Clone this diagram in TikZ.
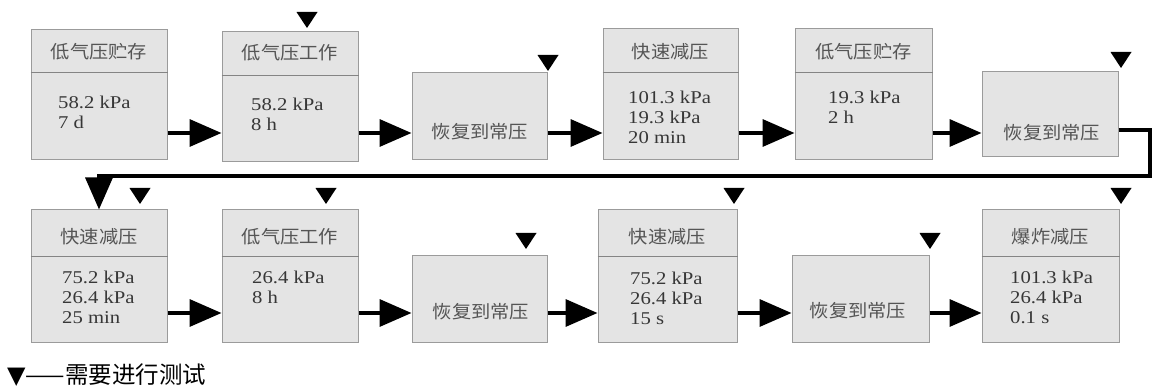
\documentclass[tikz,border=0pt]{standalone}
\usepackage{fontspec}
\setmainfont{Liberation Serif}[FakeStretch=1.15]
\newfontfamily\cjk{Noto Sans CJK SC}[FakeStretch=1.07]
\newfontfamily\cjkl{Noto Sans CJK SC}
\newfontfamily\dejavu{DejaVu Sans}
\usetikzlibrary{arrows.meta,calc}
\definecolor{boxfill}{RGB}{228,228,228}
\definecolor{boxline}{RGB}{155,155,155}
\definecolor{txt}{RGB}{55,55,55}
\newcommand\tmark[2]{\fill (#1-10.5,#2) -- ++(21,0) -- ++(-10.5,16) -- cycle;}
\begin{document}
\begin{tikzpicture}[x=1pt,y=-1pt,
 box/.style={draw=boxline, fill=boxfill, line width=1pt, inner sep=0pt},
 head/.style={font=\cjk\fontsize{18}{20}\selectfont, text=txt!85, inner sep=0pt},
 body/.style={font=\fontsize{18}{20}\selectfont, text=txt, align=left, anchor=north west, inner sep=0pt},
 arr/.style={line width=3.5pt, -{Triangle[length=32pt,width=27pt]}},
 div/.style={draw=boxline!85!black, line width=1pt}]
\useasboundingbox (0,0) rectangle (1152,387);
\coordinate (r1) at (0,133);
\coordinate (r2) at (0,313);
% row 1
\node[box, minimum width=136pt, minimum height=130pt] (b1) at (99,95) {};
\node[box, minimum width=136pt, minimum height=130pt] (b2) at (290,96.5) {};
\node[box, minimum width=135pt, minimum height=87pt] (b3) at (479.5,116.5) {};
\node[box, minimum width=135pt, minimum height=131pt] (b4) at (670.5,94.5) {};
\node[box, minimum width=137pt, minimum height=131pt] (b5) at (863.5,94.5) {};
\node[box, minimum width=136pt, minimum height=85pt] (b6) at (1050,114.5) {};
% row 2
\node[box, minimum width=136pt, minimum height=133pt] (b7) at (99,276.5) {};
\node[box, minimum width=136pt, minimum height=133pt] (b8) at (290,276.5) {};
\node[box, minimum width=135pt, minimum height=87pt] (b9) at (479.5,299.5) {};
\node[box, minimum width=139pt, minimum height=133pt] (b10) at (667.5,276.5) {};
\node[box, minimum width=137pt, minimum height=87pt] (b11) at (860.5,299.5) {};
\node[box, minimum width=137pt, minimum height=133pt] (b12) at (1050.5,276.5) {};
% dividers
\foreach \b/\d in {b1/43,b2/45,b4/44,b5/44,b7/47,b8/47,b10/47,b12/47}
  \draw[div] ($(\b.north west)+(0,\d)$) -- ($(\b.north east)+(0,\d)$);
% headers
\node[head] (h1) at (99,52) {低气压贮存};
\node[head] (h2) at (290,53) {低气压工作};
\node[head] (h4) at (670.5,52) {快速减压};
\node[head] (h5) at (863.5,52) {低气压贮存};
\node[head] (h7) at (99,237) {快速减压};
\node[head] (h8) at (290,237) {低气压工作};
\node[head] (h10) at (667.5,237) {快速减压};
\node[head] (h12) at (1050.5,237) {爆炸减压};
\node[head] (t3) at (480,132) {恢复到常压};
\node[head] (t6) at (1052,133) {恢复到常压};
\node[head] (t9) at (481,312) {恢复到常压};
\node[head] (t11) at (858,311) {恢复到常压};
% bodies (top of first line = baseline - 12)
\node[body] (p1) at (58,96) {58.2 kPa\\7 d};
\node[body] (p2) at (251,98) {58.2 kPa\\8 h};
\node[body] (p4) at (628,91) {101.3 kPa\\19.3 kPa\\20 min};
\node[body] (p5) at (828,91) {19.3 kPa\\2 h};
\node[body] (p7) at (62,271) {75.2 kPa\\26.4 kPa\\25 min};
\node[body] (p8) at (252,271) {26.4 kPa\\8 h};
\node[body] (p10) at (630,272) {75.2 kPa\\26.4 kPa\\15 s};
\node[body] (p12) at (1010,271) {101.3 kPa\\26.4 kPa\\0.1 s};
% arrows
\draw[arr] (b1.east |- r1) -- (b2.west |- r1);
\draw[arr] (b2.east |- r1) -- (b3.west |- r1);
\draw[arr] (b3.east |- r1) -- (b4.west |- r1);
\draw[arr] (b4.east |- r1) -- (b5.west |- r1);
\draw[arr] (b5.east |- r1) -- (b6.west |- r1);
\draw[arr] (b7.east |- r2) -- (b8.west |- r2);
\draw[arr] (b8.east |- r2) -- (b9.west |- r2);
\draw[arr] (b9.east |- r2) -- (b10.west |- r2);
\draw[arr] (b10.east |- r2) -- (b11.west |- r2);
\draw[arr] (b11.east |- r2) -- (b12.west |- r2);
\coordinate (c1) at (1150,130);
\coordinate (c2) at (1150,176);
\draw[arr] (b6.east |- c1) -- (c1) -- (c2) -| (b7.north);
% test markers
\tmark{307}{12}
\tmark{548}{55}
\tmark{1121}{52}
\tmark{140}{188}
\tmark{326}{188}
\tmark{526}{233}
\tmark{734}{188}
\tmark{930}{233}
\tmark{1121}{188}
% legend
\node[anchor=west, inner sep=0pt] (leg) at (7,375) {{\dejavu\fontsize{24}{26}\selectfont ▼}{\cjkl\fontsize{23.5}{26}\selectfont ——需要进行测试}};
\end{tikzpicture}
\end{document}
